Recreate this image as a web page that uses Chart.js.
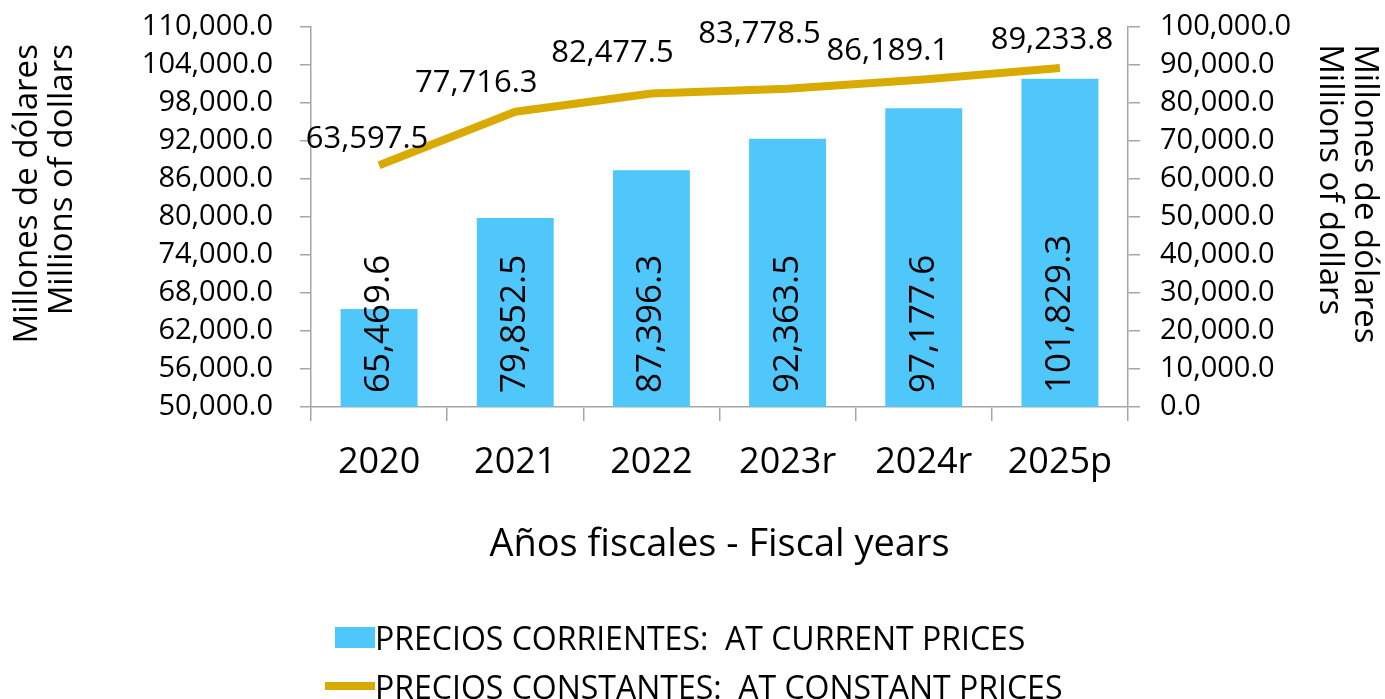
<!DOCTYPE html>
<html>
<head>
<meta charset="utf-8">
<script src="https://cdn.jsdelivr.net/npm/chart.js@4.4.1/dist/chart.umd.min.js"></script>
<style>
    html, body { margin: 0; padding: 0; background: #fff; }
    #wrap { position: relative; width: 1385px; height: 699px; }
    #legend { font-family: "Open Sans", sans-serif; color: #000; }
    .legend-item { position: absolute; left: 325px; height: 40px; display: flex; align-items: center; white-space: pre; font-size: 32px; }
    .legend-mark { width: 50px; display: flex; justify-content: flex-end; }
</style>
</head>
<body>
<div id="wrap">
    <canvas id="fiscalChart" width="1385" height="699"></canvas>
    <div id="legend"></div>
</div>
<script>
const years = ['2020', '2021', '2022', '2023r', '2024r', '2025p'];
const currentPrices = [65469.6, 79852.5, 87396.3, 92363.5, 97177.6, 101829.3];
const constantPrices = [63597.5, 77716.3, 82477.5, 83778.5, 86189.1, 89233.8];
const seriesNames = ['PRECIOS CORRIENTES:  AT CURRENT PRICES', 'PRECIOS CONSTANTES:  AT CONSTANT PRICES'];
// the spaces push the axis titles a little away from the top end, like in the original
const yTitle = ['Millones de dólares  ', 'Millions of dollars  '];
const y2Title = ['  Millones de dólares', '  Millions of dollars'];
const xTitle = 'Años fiscales - Fiscal years';

const axisGray = '#a6a6a6';
const barBlue = '#50c7fb';
const lineGold = '#d9aa00';

// nudges for the line labels (they sit up-left of each point in the original)
const lineLabelShift = [[-12, -26], [-39, -29], [-39, -40], [-28, -54], [-36, -28], [-8, -28]];

const fmt = v => v.toLocaleString('en-US', { minimumFractionDigits: 1, maximumFractionDigits: 1 });

Chart.defaults.font.family = '"Open Sans", sans-serif';
Chart.defaults.color = '#000';

const valueLabels = {
    id: 'valueLabels',
    afterDatasetsDraw(chart) {
        const ctx = chart.ctx;
        const bottom = chart.chartArea.bottom;
        ctx.save();
        ctx.fillStyle = '#000';

        chart.getDatasetMeta(0).data.forEach((bar, i) => {
            ctx.save();
            ctx.translate(bar.x, bottom - 14);
            ctx.rotate(-Math.PI / 2);
            ctx.font = '35px "Open Sans"';
            ctx.textAlign = 'left';
            ctx.textBaseline = 'middle';
            ctx.fillText(fmt(currentPrices[i]), 0, 0);
            ctx.restore();
        });

        ctx.font = '31px "Open Sans"';
        ctx.textAlign = 'center';
        ctx.textBaseline = 'middle';
        chart.getDatasetMeta(1).data.forEach((pt, i) => {
            const [dx, dy] = lineLabelShift[i];
            ctx.fillText(fmt(constantPrices[i]), pt.x + dx, pt.y + dy);
        });
        ctx.restore();
    }
};

function fixVertical(width) {
    return s => {
        s.width = width;
        s.paddingTop = 0;
        s.paddingBottom = 0;
    };
}

const fiscalChart = document.getElementById('fiscalChart');

const chart = new Chart(fiscalChart, {
    type: 'bar',
    data: {
        labels: years,
        datasets: [{
            type: 'bar',
            label: seriesNames[0],
            data: currentPrices,
            backgroundColor: barBlue,
            categoryPercentage: 1,
            barPercentage: 0.565,
            yAxisID: 'y',
            order: 2
        }, {
            type: 'line',
            label: seriesNames[1],
            data: constantPrices,
            borderColor: lineGold,
            backgroundColor: lineGold,
            borderWidth: 8,
            pointRadius: 0,
            tension: 0,
            borderJoinStyle: 'round',
            borderCapStyle: 'butt',
            yAxisID: 'y2',
            order: 1
        }]
    },
    options: {
        responsive: false,
        animation: false,
        layout: {
            padding: { top: 27, left: 0, right: 0, bottom: 131 }
        },
        plugins: {
            legend: { display: false },
            tooltip: { enabled: false }
        },
        scales: {
            x: {
                grid: { drawOnChartArea: false, offset: true, tickLength: 14, color: axisGray, lineWidth: 1.5 },
                border: { color: axisGray, width: 1.5 },
                ticks: { font: { size: 36 }, padding: 20 },
                title: {
                    display: true,
                    text: xTitle,
                    font: { size: 38 },
                    padding: { top: 40, bottom: 0 }
                },
                afterFit: s => { s.height = 161; }
            },
            y: {
                position: 'left',
                min: 50000,
                max: 110000,
                grid: { drawOnChartArea: false, tickLength: 11, color: axisGray, lineWidth: 1.5 },
                border: { color: axisGray, width: 1.5 },
                ticks: { stepSize: 6000, autoSkip: false, font: { size: 29 }, padding: 27, callback: v => fmt(v) },
                title: {
                    display: true,
                    text: yTitle,
                    align: 'end',
                    font: { size: 33, lineHeight: 1.06 },
                    padding: { top: 10, bottom: 0 }
                },
                afterFit: fixVertical(311)
            },
            y2: {
                position: 'right',
                min: 0,
                max: 100000,
                grid: { drawOnChartArea: false, tickLength: 12, color: axisGray, lineWidth: 1.5 },
                border: { color: axisGray, width: 1.5 },
                ticks: { stepSize: 10000, autoSkip: false, font: { size: 29 }, padding: 20, callback: v => fmt(v) },
                title: {
                    display: true,
                    text: y2Title,
                    align: 'end',
                    font: { size: 33, lineHeight: 1.06 },
                    padding: { top: 3, bottom: 0 }
                },
                afterFit: fixVertical(257)
            }
        }
    },
    plugins: [valueLabels]
});

// legend under the chart, two stacked rows like the original
const legend = document.getElementById('legend');
const rowTops = [617, 666];
chart.data.datasets.forEach((ds, i) => {
    const item = document.createElement('div');
    item.className = 'legend-item';
    item.style.top = rowTops[i] + 'px';
    const mark = document.createElement('span');
    mark.className = 'legend-mark';
    const swatch = document.createElement('span');
    swatch.style.display = 'inline-block';
    swatch.style.background = ds.type === 'line' ? ds.borderColor : ds.backgroundColor;
    if (ds.type === 'line') {
        swatch.style.width = '50px';
        swatch.style.height = '8px';
    } else {
        swatch.style.width = '40px';
        swatch.style.height = '21px';
    }
    mark.appendChild(swatch);
    const text = document.createElement('span');
    text.textContent = ds.label;
    item.appendChild(mark);
    item.appendChild(text);
    legend.appendChild(item);
});
</script>
</body>
</html>
